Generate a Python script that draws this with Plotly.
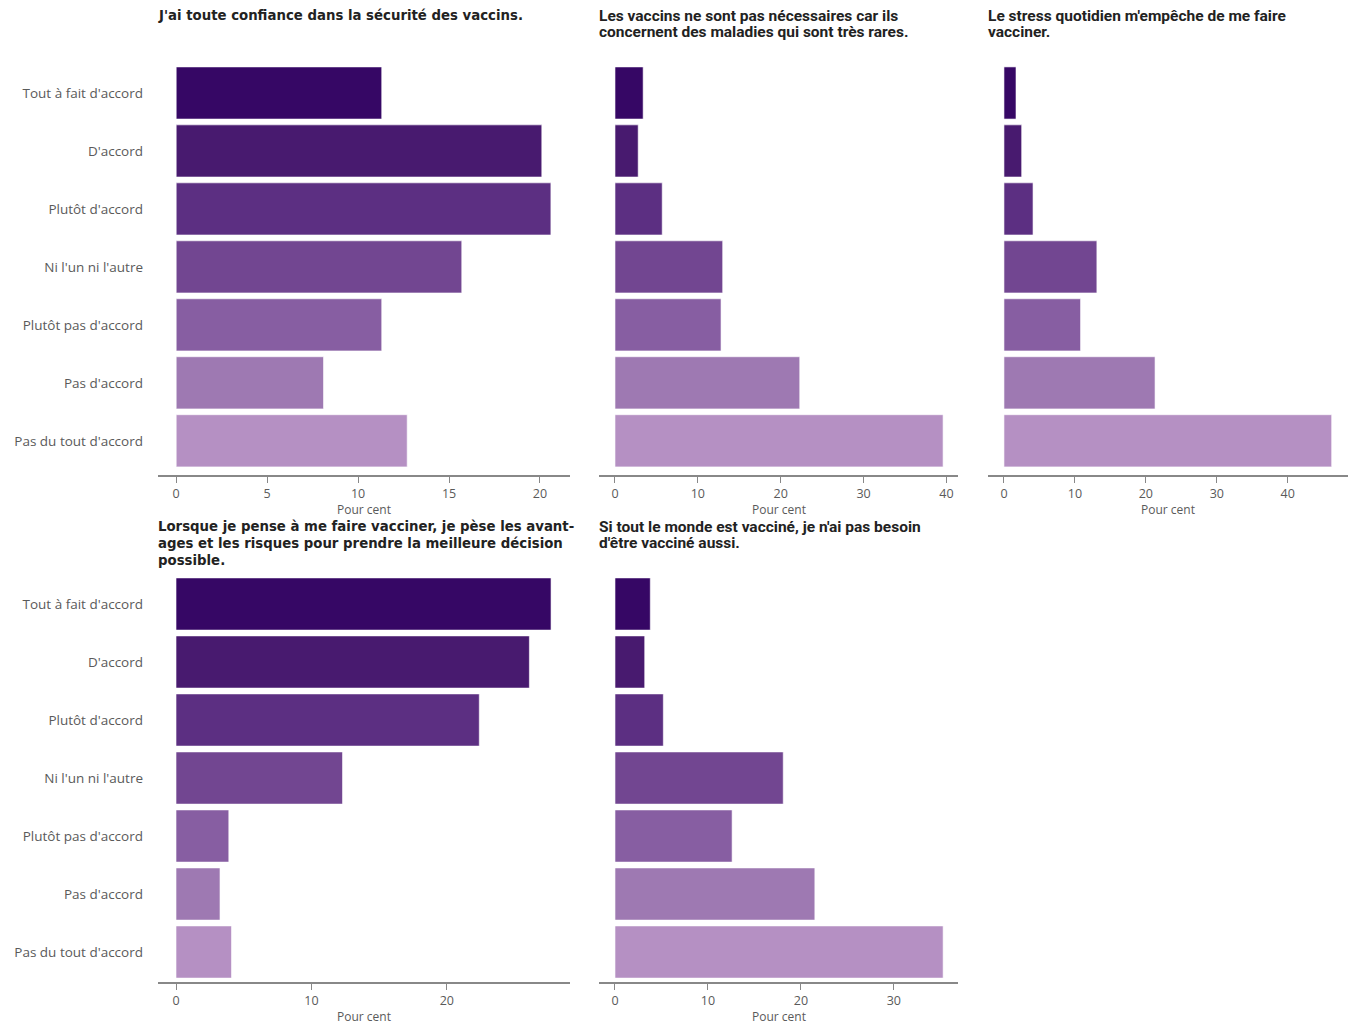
import plotly.graph_objects as go

categories = ["Tout à fait d'accord", "D'accord", "Plutôt d'accord", "Ni l'un ni l'autre",
              "Plutôt pas d'accord", "Pas d'accord", "Pas du tout d'accord"]
colors = ["#360765", "#481a6f", "#5c2f82", "#724691", "#875ea2", "#9e79b2", "#b590c3"]

titles = [
    "J'ai toute confiance dans la sécurité des vaccins.",
    "Les vaccins ne sont pas nécessaires car ils<br>concernent des maladies qui sont très rares.",
    "Le stress quotidien m'empêche de me faire<br>vacciner.",
    "Lorsque je pense à me faire vacciner, je pèse les avant-<br>ages et les risques pour prendre la meilleure décision<br>possible.",
    "Si tout le monde est vacciné, je n'ai pas besoin<br>d'être vacciné aussi.",
]
values_1 = [11.3, 20.1, 20.6, 15.7, 11.3, 8.1, 12.7]
values_2 = [3.4, 2.8, 5.7, 13.0, 12.8, 22.3, 39.6]
values_3 = [1.7, 2.5, 4.1, 13.1, 10.8, 21.3, 46.2]
values_4 = [27.7, 26.1, 22.4, 12.3, 3.9, 3.25, 4.1]
values_5 = [3.8, 3.2, 5.2, 18.1, 12.6, 21.5, 35.3]
all_values = [values_1, values_2, values_3, values_4, values_5]
x_ranges = [[-1.0, 21.65], [-1.93, 41.4], [-2.25, 48.5], [-1.33, 29.1], [-1.72, 36.9]]
dticks = [5, 10, 10, 10, 10]

W, H = 1354, 1025
col_px = [(158, 570), (599, 958), (988, 1348)]
row_px = [(64, 475), (575, 982)]
y_ranges = [[6.59, -0.5], [6.517, -0.5]]
title_first_line = [15.5, 526.5]
line_step = 16.8
positions = [(0, 0), (0, 1), (0, 2), (1, 0), (1, 1)]
label_font = dict(family="Open Sans", size=13.5, color="#5a5a5a")
tick_font = dict(family="Open Sans", size=12.5, color="#5a5a5a")
axis_title_font = dict(family="Open Sans", size=12, color="#5a5a5a")

fig = go.Figure()
annotations = []
layout_axes = {}
for i, (vals, (r, c)) in enumerate(zip(all_values, positions)):
    n = i + 1
    xa = "x" if n == 1 else f"x{n}"
    ya = "y" if n == 1 else f"y{n}"
    fig.add_trace(go.Bar(
        x=vals, y=categories, orientation="h", xaxis=xa, yaxis=ya,
        marker=dict(color=colors, line=dict(color="rgba(255,255,255,0.6)", width=1)),
        width=0.9, showlegend=False, hoverinfo="x+y",
    ))
    x0, x1 = col_px[c]
    y0, y1 = row_px[r]
    xd = [x0 / W, x1 / W]
    yd = [1 - y1 / H, 1 - y0 / H]
    layout_axes["xaxis" if n == 1 else f"xaxis{n}"] = dict(
        domain=xd, anchor=ya, range=x_ranges[i], dtick=dticks[i], tick0=0,
        showgrid=False, zeroline=False, showline=True, linecolor="#888", linewidth=1.5,
        ticks="outside", ticklen=6, tickcolor="#888", tickwidth=1, ticklabelstandoff=0,
        tickfont=tick_font,
    )
    layout_axes["yaxis" if n == 1 else f"yaxis{n}"] = dict(
        domain=yd, anchor=xa, type="category", categoryorder="array", categoryarray=categories,
        range=y_ranges[r], showgrid=False, zeroline=False, showline=False,
        showticklabels=(c == 0), ticks="", ticklabelstandoff=14,
        tickfont=label_font,
    )
    if c == 0:
        tfont = dict(family="DejaVu Sans", size=13.3, color="#222", weight="bold")
    else:
        tfont = dict(family="Roboto", size=15.5, color="#222", weight="bold")
    for k, line in enumerate(titles[i].split("<br>")):
        annotations.append(dict(
            text=line, xref="paper", yref="paper", x=(x0 - 2) / W,
            y=1 - (title_first_line[r] + k * line_step) / H,
            xanchor="left", yanchor="middle", align="left", showarrow=False,
            font=tfont,
        ))
    annotations.append(dict(
        text="Pour cent", xref="paper", yref="paper", x=(x0 + x1) / 2 / W, y=1 - (y1 + 34) / H,
        xanchor="center", yanchor="middle", showarrow=False,
        font=axis_title_font,
    ))

fig.update_layout(
    width=W, height=H, margin=dict(l=0, r=0, t=0, b=0),
    plot_bgcolor="white", paper_bgcolor="white",
    annotations=annotations, bargap=0.1, **layout_axes,
)
fig.write_html("out.html")
